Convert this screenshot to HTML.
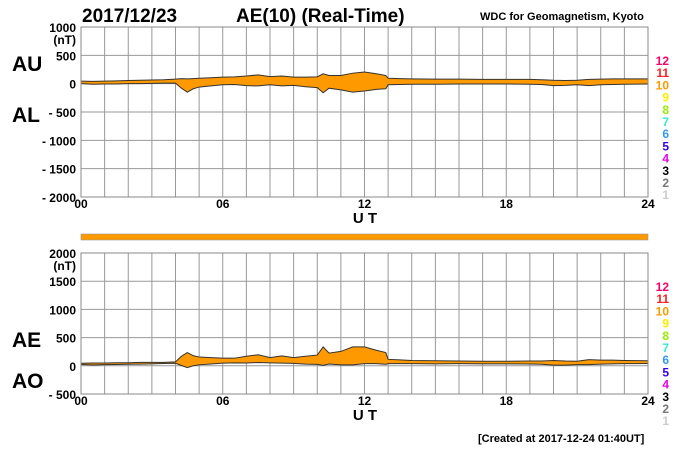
<!DOCTYPE html>
<html><head><meta charset="utf-8"><style>
body{margin:0;background:#fff;}
svg text{font-family:"Liberation Sans",Arial,sans-serif;}
</style></head><body>
<svg id="c" width="700" height="450" xmlns="http://www.w3.org/2000/svg">
<text x="82" y="22" font-size="19" font-weight="bold">2017/12/23</text>
<text x="236" y="22" font-size="19" font-weight="bold">AE(10) (Real-Time)</text>
<text x="480" y="20" font-size="11" font-weight="bold">WDC for Geomagnetism, Kyoto</text>
<text x="478" y="442" font-size="11" font-weight="bold">[Created at 2017-12-24 01:40UT]</text>
<rect x="81" y="234" width="567" height="6" fill="#ff9900" stroke="#999" stroke-width="0.6"/>
<g id="g"></g>
</svg>
<script>
const hours = [0,0.5,1,1.5,2,2.5,3,3.5,4,4.25,4.5,4.75,5,5.5,6,6.5,7,7.5,8,8.5,9,9.5,10,10.25,10.5,11,11.5,12,12.5,12.9,13,13.5,14,15,16,17,18,19,19.5,20,20.5,21,21.5,22,22.5,23,24];
const auValues = [45,40,45,50,55,60,65,70,80,90,85,90,95,105,115,120,135,155,125,135,115,115,120,175,145,145,185,205,175,145,95,90,85,80,80,75,75,75,70,60,55,60,75,80,85,85,85];
const alValues = [0,-10,-5,-5,0,0,5,10,10,-80,-150,-90,-60,-40,-20,-15,-35,-40,-20,-40,-30,-55,-70,-160,-80,-110,-150,-130,-100,-90,-20,-15,-10,-10,-5,-5,-5,-10,-15,-35,-30,-20,-35,-20,-15,-10,-5];
const yTicksTop = [1000,500,0,-500,-1000,-1500,-2000];
const yTicksBot = [2000,1500,1000,500,0,-500];
const xTicks = ["00","06","12","18","24"];
const legendLabels = ["12","11","10","9","8","7","6","5","4","3","2","1"];
const legendColors = ["#ff0066","#ff2020","#ff9900","#ffee00","#99ee00","#33eecc","#3399ff","#3300ff","#ee00ee","#000","#777","#ccc"];

const NS="http://www.w3.org/2000/svg";
const g=document.getElementById('g');
const X0=81,X1=648;
const xs=h=>X0+(X1-X0)*h/24;
function mk(t,a,name){const e=document.createElementNS(NS,t);for(const k in a)e.setAttribute(k,a[k]);


g.appendChild(e);return e;}
function txt(x,y,s,attrs,name){const e=mk('text',Object.assign({x:x,y:y},attrs),name);e.textContent=s;return e;}

function panel(top,bot,vmax,vmin,ticks,upper,lower,lab1,lab2,key,lab1y){
  const ys=v=>top+(vmax-v)*(bot-top)/(vmax-vmin);
  for(let h=0;h<=24;h++) mk('line',{x1:xs(h),x2:xs(h),y1:top,y2:bot,stroke:'#999','stroke-width':1},key+'-vgrid');
  ticks.forEach(v=>{mk('line',{x1:X0,x2:X1,y1:ys(v),y2:ys(v),stroke:'#999','stroke-width':1},key+'-hgrid');
    txt(76,ys(v)+5,(v<0?'- '+(-v):String(v)),{'font-size':12,'font-weight':'bold','text-anchor':'end'},key+'-y-tick');});
  txt(76,ys(ticks[0])+17,'(nT)',{'font-size':12,'font-weight':'bold','text-anchor':'end'},key+'-unit');
  let d='M'+hours.map((h,i)=>xs(h)+','+ys(upper[i])).join('L');
  for(let i=hours.length-1;i>=0;i--) d+='L'+xs(hours[i])+','+ys(lower[i]);
  mk('path',{d:d+'Z',fill:'#ff9900',stroke:'none'},key+'-band');
  mk('polyline',{points:hours.map((h,i)=>xs(h)+','+ys(upper[i])).join(' '),fill:'none',stroke:'#333','stroke-width':1},key+'-upper-line');
  mk('polyline',{points:hours.map((h,i)=>xs(h)+','+ys(lower[i])).join(' '),fill:'none',stroke:'#333','stroke-width':1},key+'-lower-line');
  mk('rect',{x:X0,y:top,width:X1-X0,height:bot-top,fill:'none',stroke:'#888'},key+'-frame');
  xTicks.forEach((s,i)=>txt(xs(i*6),bot+11,s,{'font-size':12,'font-weight':'bold','text-anchor':'middle'},key+'-x-tick'));
  txt(365,bot+26,'U T',{'font-size':15,'font-weight':'bold','text-anchor':'middle'},key+'-x-title');
  txt(12,lab1y,lab1,{'font-size':21,'font-weight':'bold'},key+'-upper-label');
  txt(12,lab2[1],lab2[0],{'font-size':21,'font-weight':'bold'},key+'-lower-label');
  legendLabels.forEach((s,i)=>txt(669,top+38+i*12.2,s,{'font-size':12,'font-weight':'bold','fill':legendColors[i],'text-anchor':'end'},key+'-legend-entry'));
}
panel(27,197,1000,-2000,yTicksTop,auValues,alValues,'AU',['AL',122],'top',71);
const aeValues=auValues.map((u,i)=>u-alValues[i]);
const aoValues=auValues.map((u,i)=>(u+alValues[i])/2);
panel(253,394,2000,-500,yTicksBot,aeValues,aoValues,'AE',['AO',388],'bottom',347);
</script>
</body></html>
